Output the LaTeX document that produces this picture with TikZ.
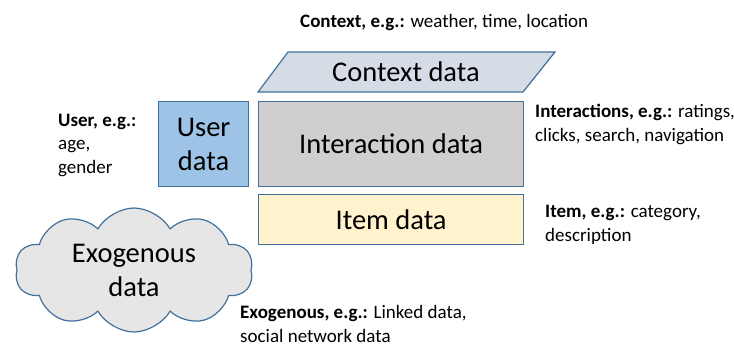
\documentclass[tikz,border=0pt]{standalone}
\usepackage{fontspec}
\setmainfont{Carlito}
\usetikzlibrary{shapes.symbols,shapes.geometric}
\definecolor{edge}{HTML}{41719C}
\definecolor{ctxfill}{HTML}{D6DCE5}
\definecolor{userfill}{HTML}{9DC3E6}
\definecolor{interfill}{HTML}{D0CECE}
\definecolor{itemfill}{HTML}{FFF2CC}
\definecolor{cloudfill}{HTML}{E7E6E6}
\tikzset{
  box/.style={draw=edge, line width=1.2pt},
  big/.style={font=\fontsize{28.5}{34}\selectfont},
  note/.style={font=\fontsize{19}{23.5}\selectfont, align=left, anchor=base west, inner sep=0pt}
}
\begin{document}
\begin{tikzpicture}[x=1pt,y=-1pt]
\useasboundingbox (0,0) rectangle (734,346);
% context parallelogram
\draw[box, fill=ctxfill] (288,52) -- (555,52) -- (523,92) -- (258,92) -- cycle;
\node[big] (ctx) at (406,72) {Context data};
% user data
\node[box, fill=userfill, minimum width=90pt, minimum height=85pt, inner sep=0pt, anchor=north west, big, align=center] (user) at (158,101) {User\\data};
% interaction
\node[box, fill=interfill, minimum width=265pt, minimum height=85pt, anchor=north west, big] (inter) at (258,101) {Interaction data};
% item
\node[box, fill=itemfill, minimum width=265pt, minimum height=50pt, anchor=north west, big] (item) at (258,194) {Item data};
% cloud
\node[cloud, draw=edge, line width=1.2pt, fill=cloudfill, cloud puffs=10, cloud puff arc=120, aspect=1.9, minimum width=238pt, minimum height=124pt, big, align=center, inner sep=0pt] (exo) at (134,270) {Exogenous\\data};
% notes (anchor = baseline of last line)
\node[note] (nctx) at (300,27) {\textbf{Context, e.g.:} weather, time, location};
\node[note] (nuser) at (58,173) {\textbf{User, e.g.:}\\age,\\gender};
\node[note] (ninter) at (535,141) {\textbf{Interactions, e.g.:} ratings,\\clicks, search, navigation};
\node[note] (nitem) at (545,241) {\textbf{Item, e.g.:} category,\\description};
\node[note] (nexo) at (240,342) {\textbf{Exogenous, e.g.:} Linked data,\\social network data};
\end{tikzpicture}
\end{document}
